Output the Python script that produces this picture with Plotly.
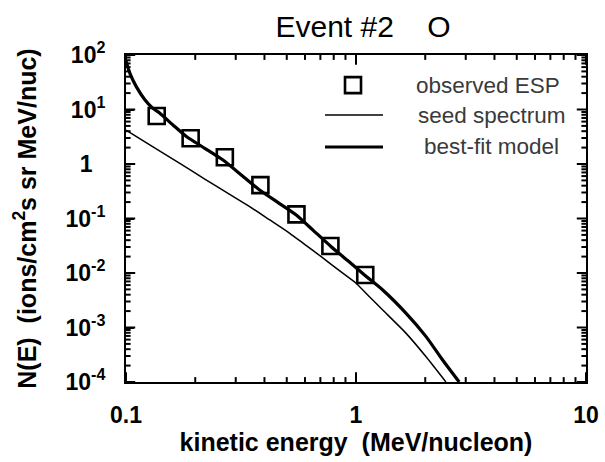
import plotly.graph_objects as go

# observed ESP (squares)
energy_obs = [0.136, 0.191, 0.269, 0.384, 0.551, 0.774, 1.097]
flux_obs = [7.6, 2.96, 1.33, 0.41, 0.119, 0.0313, 0.0092]

# seed spectrum (thin line)
energy_seed = [0.1, 0.13, 0.17, 0.22, 0.28, 0.345, 0.42, 0.515, 0.6, 0.706,
               0.85, 1.0, 1.15, 1.307, 1.652, 2.017, 2.46]
flux_seed = [4.2, 2.1, 1.05, 0.53, 0.283, 0.165, 0.095, 0.0535, 0.0332, 0.0199,
             0.0109, 0.0065, 0.00359, 0.00209, 0.00078, 0.00029, 0.0001]

# best-fit model (thick line)
energy_fit = [0.1, 0.104, 0.111, 0.121, 0.131, 0.14, 0.16, 0.183, 0.22, 0.264,
              0.32, 0.381, 0.46, 0.55, 0.65, 0.78, 0.92, 1.089, 1.307, 1.652,
              2.017, 2.38, 2.81]
flux_fit = [78, 46, 26, 15, 10.5, 8.6, 5.2, 3.2, 1.94, 1.18,
            0.61, 0.333, 0.194, 0.116, 0.0612, 0.0304, 0.0169, 0.0092, 0.00488, 0.00182,
            0.00068, 0.000253, 0.0001]

x_tickvals = [0.1, 1, 10]
x_ticktext = ["0.1", "1", "10"]
x_minor = [0.2, 0.3, 0.4, 0.5, 0.6, 0.7, 0.8, 0.9, 2, 3, 4, 5, 6, 7, 8, 9]
y_tickvals = [1e2, 1e1, 1, 1e-1, 1e-2, 1e-3, 1e-4]
y_ticktext = ["10<sup>2</sup>", "10<sup>1</sup>", "1\u00a0\u00a0", "10<sup>-1</sup>",
              "10<sup>-2</sup>", "10<sup>-3</sup>", "10<sup>-4</sup>"]
y_minor = [m * 10.0 ** e for e in range(-4, 2) for m in range(2, 10)]

legend_labels = ["observed ESP", "seed spectrum", "best-fit model"]

FONT = "Liberation Sans, Arial, sans-serif"

fig = go.Figure()
fig.add_trace(go.Scatter(x=energy_seed, y=flux_seed, mode="lines",
                         line=dict(color="black", width=1.5, shape="spline", smoothing=0.6),
                         name=legend_labels[1], showlegend=False, hoverinfo="skip"))
fig.add_trace(go.Scatter(x=energy_fit, y=flux_fit, mode="lines",
                         line=dict(color="black", width=3.2, shape="spline", smoothing=0.6),
                         name=legend_labels[2], showlegend=False, hoverinfo="skip"))
fig.add_trace(go.Scatter(x=energy_obs, y=flux_obs, mode="markers",
                         marker=dict(symbol="square-open", size=16, color="black",
                                     line=dict(width=2.6, color="black")),
                         name=legend_labels[0], showlegend=False, hoverinfo="skip"))

# inward tick marks on all four sides, placed through the axes' own scales
tick_line = dict(color="black", width=2)
for vals, length in ((x_tickvals, 0.03), (x_minor, 0.015)):
    for v in vals:
        fig.add_shape(type="line", xref="x", yref="paper", x0=v, x1=v,
                      y0=0, y1=length, line=tick_line, layer="above")
        fig.add_shape(type="line", xref="x", yref="paper", x0=v, x1=v,
                      y0=1 - length, y1=1, line=tick_line, layer="above")
for vals, length in ((y_tickvals, 0.02), (y_minor, 0.01)):
    for v in vals:
        fig.add_shape(type="line", xref="paper", yref="y", y0=v, y1=v,
                      x0=0, x1=length, line=tick_line, layer="above")
        fig.add_shape(type="line", xref="paper", yref="y", y0=v, y1=v,
                      x0=1 - length, x1=1, line=tick_line, layer="above")

tick_font = dict(family=FONT, size=23, color="black", weight="bold")
title_font = dict(family=FONT, size=25, color="black", weight="bold")

fig.update_xaxes(type="log", range=[-1, 1], showgrid=False, zeroline=False, automargin=False,
                 showline=True, linecolor="black", linewidth=2, mirror=True,
                 ticks="inside", ticklen=8, tickwidth=2, tickcolor="black",
                 tickmode="array", tickvals=x_tickvals, ticktext=x_ticktext,
                 tickfont=tick_font, ticklabelstandoff=11,
                 title=dict(text="kinetic energy  (MeV/nucleon)", font=title_font, standoff=4))
fig.update_yaxes(type="log", range=[-4, 2], showgrid=False, zeroline=False, automargin=False,
                 showline=True, linecolor="black", linewidth=2, mirror=True,
                 ticks="inside", ticklen=8, tickwidth=2, tickcolor="black",
                 tickmode="array", tickvals=y_tickvals, ticktext=y_ticktext,
                 tickfont=tick_font, ticklabelstandoff=14,
                 title=dict(text="N(E)  (ions/cm<sup>2</sup>s sr MeV/nuc)", font=title_font,
                            standoff=22))

# legend drawn inside the plot (top right)
legend_font = dict(family=FONT, size=22.5, color="#3a3a3a")
fig.add_shape(type="rect", xref="paper", yref="paper", xsizemode="pixel", ysizemode="pixel",
              xanchor=0.4935, yanchor=0.908, x0=-8, x1=8, y0=-8, y1=8,
              line=dict(color="black", width=2.6))
fig.add_shape(type="line", xref="paper", yref="paper", x0=0.4326, x1=0.5587,
              y0=0.8165, y1=0.8165, line=dict(color="black", width=1.5))
fig.add_shape(type="line", xref="paper", yref="paper", x0=0.4326, x1=0.5587,
              y0=0.7187, y1=0.7187, line=dict(color="black", width=3.2))
for lbl, xx, yy in zip(legend_labels, [0.786, 0.7946, 0.7935], [0.908, 0.8165, 0.7187]):
    fig.add_annotation(text=lbl, xref="paper", yref="paper", x=xx, y=yy,
                       xanchor="center", yanchor="middle", showarrow=False, font=legend_font)

fig.update_layout(
    template="none",
    width=605, height=462, autosize=False,
    margin=dict(l=126, r=19, t=55, b=80),
    paper_bgcolor="white", plot_bgcolor="white",
    title=dict(text="Event #2\u00a0\u00a0\u00a0\u00a0O", x=0.60, xanchor="center",
               y=1 - 26 / 462, yanchor="middle",
               font=dict(family=FONT, size=30, color="black")),
    showlegend=False,
)

fig.write_html("out.html", config={"displayModeBar": False},
               post_script="document.body.style.margin='0';document.body.style.overflow='hidden';")
